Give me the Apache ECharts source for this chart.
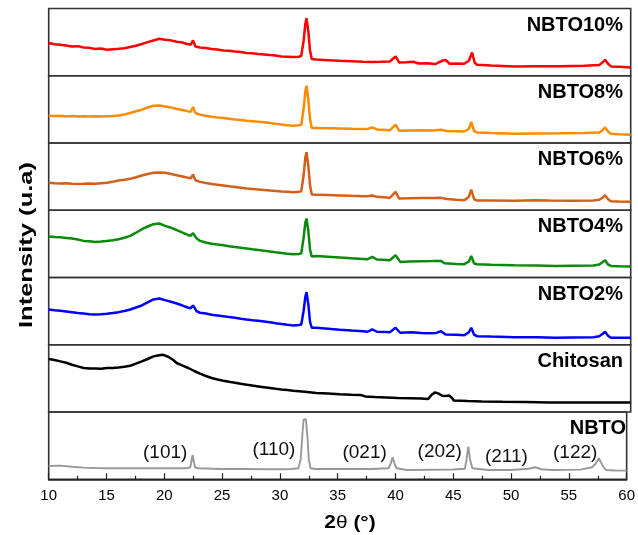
<!DOCTYPE html>
<html>
<head>
<meta charset="utf-8">
<script src="https://cdn.jsdelivr.net/npm/echarts@6/dist/echarts.min.js"></script>
<style>
html,body{margin:0;padding:0;background:#fff;}
#chart{width:638px;height:535px;}
</style>
</head>
<body>
<div id="chart"></div>
<script>
// ---- data (2θ in degrees, intensity in arbitrary units per panel) ----
const panelNames = ['NBTO10%', 'NBTO8%', 'NBTO6%', 'NBTO4%', 'NBTO2%', 'Chitosan', 'NBTO'];
const panelColors = ['#ff0000', '#ff8c00', '#d2601a', '#0a8a0a', '#0000ff', '#000000', '#999999'];

const nbto10 = [[10,32.7],[10.5,31.5],[11,31],[11.5,30.2],[12,29.3],[12.5,29.6],[13,28.3],[13.5,27.9],[14,26.7],[14.5,27.2],[15,26],[15.5,26.6],[16,27],[16.5,27.5],[17,28.7],[17.5,30],[18,31.7],[18.5,33.6],[19,35.3],[19.5,37],[20,36],[20.5,35.4],[21,34],[21.5,33.2],[21.8,32],[22.2,31],[22.4,35.3],[22.6,29.3],[23,28.3],[23.5,27.8],[24,26.7],[24.5,26.2],[25,25.3],[25.5,25],[26,24.3],[26.5,23.8],[27,22.7],[27.5,22.4],[28,21.7],[28.5,21.3],[29,20.7],[29.5,20.2],[30,19.3],[30.5,19.1],[31,18.7],[31.5,19],[31.7,20],[31.9,35],[32.05,52],[32.15,57.7],[32.3,45],[32.45,25],[32.6,16.7],[33,16.2],[34,15.6],[35,15],[36,14.5],[37,14],[37.8,13.8],[38.5,14],[39.3,14.3],[39.8,19.3],[40.1,13.3],[40.7,13.6],[41.3,14],[41.8,12.3],[42.5,12.5],[43.2,11.7],[43.8,15],[44.1,15.7],[44.45,12],[45,12.2],[45.7,12],[46.1,15],[46.37,23.3],[46.6,13],[46.8,11],[48,10.2],[50,9.3],[52,9.6],[54,9.4],[56,10],[57.3,10.8],[57.6,13.5],[57.8,16],[58.05,12],[58.3,9.3],[59,9],[60,8.3]];

const nbto8 = [[10,27.3],[10.5,27],[11,27.2],[11.5,26.6],[12,26.9],[12.5,26.5],[13,26.7],[13.5,26.4],[14,26.8],[14.5,26.5],[15,26.7],[15.5,27],[16,27.6],[16.5,28.6],[17,30],[17.5,31.8],[18,33.3],[18.5,35.5],[19,37.3],[19.5,37.6],[20,36.6],[20.5,35.6],[21,34],[21.5,33],[22,31.6],[22.2,31.2],[22.4,36],[22.6,30],[23,28.3],[23.5,27.3],[24,26.2],[24.5,25.6],[25,25],[25.5,24.3],[26,23.6],[26.5,23],[27,22.3],[27.5,21.8],[28,21.3],[28.5,20.8],[29,20],[29.5,19.2],[30,18.6],[30.5,17.8],[31,17.3],[31.5,17.8],[31.7,18.3],[31.9,34],[32.05,52],[32.15,57.3],[32.3,44],[32.45,24],[32.6,15],[33,15],[34,14.8],[35,14.6],[36,14.3],[37,14.1],[37.4,14],[37.8,15.6],[38.2,13.6],[39,13],[39.3,12.6],[39.8,18.3],[40.1,12.3],[41,12.6],[42,12.8],[43,12.6],[43.7,13.3],[44.2,12],[45,11.8],[45.7,11.6],[46.1,14],[46.3,21],[46.55,12],[46.8,10.6],[48,10],[50,9.3],[52,9.6],[54,9.7],[56,10],[57.3,10.5],[57.6,13],[57.8,15.6],[58.05,11.5],[58.3,9.3],[59,8.8],[60,8.3]];

const nbto6 = [[10,27.4],[10.5,27],[11,26.8],[11.5,27],[12,26.6],[12.5,26.3],[13,26.4],[13.5,26.7],[14,26.5],[14.5,27],[15,27.4],[15.5,28.4],[16,29.7],[16.5,30.5],[17,31.4],[17.5,33],[18,34.7],[18.5,36.3],[19,37.4],[19.5,37.8],[20,37.4],[20.5,36.3],[21,35],[21.5,33.8],[22,32.4],[22.2,32],[22.4,35.7],[22.6,30],[23,28.4],[23.5,27.2],[24,26.2],[24.5,25.5],[25,24.7],[25.5,23.9],[26,23.2],[26.5,22.5],[27,21.7],[27.5,21.3],[28,20.8],[28.5,20.3],[29,19.7],[29.5,19.2],[30,18.7],[30.5,18.4],[31,18],[31.5,18.5],[31.7,19],[31.9,35],[32.05,53],[32.15,58],[32.3,45],[32.45,25],[32.6,15.7],[33,15.6],[34,15.2],[35,14.8],[36,14.4],[37,14.1],[37.4,14],[37.8,14.8],[38.2,13.4],[39,12.8],[39.3,12.4],[39.8,18.4],[40.1,11.7],[41,12],[42,12.3],[43,12.2],[43.7,12.4],[44.2,11.2],[45,10.5],[45.7,10],[46.1,13.5],[46.3,20.7],[46.55,11],[46.8,9.7],[48,9.8],[50,9.6],[51.9,10],[53,9.8],[55,9.5],[56.8,9.8],[57.3,10.5],[57.6,12.8],[57.8,15],[58.05,11],[58.3,9],[59,8.7],[60,8.4]];

const nbto4 = [[10,41],[10.5,40.5],[11,40.2],[11.5,39.6],[12,39],[12.5,38],[13,36.6],[13.5,36.2],[14,35.6],[14.5,36],[15,36.6],[15.5,37.2],[16,38.3],[16.5,39.8],[17,41.6],[17.5,44.8],[18,48.3],[18.5,51],[19,53.3],[19.5,54],[20,51.6],[20.5,49.8],[21,47.3],[21.5,44.8],[22,42.3],[22.2,41.8],[22.4,44.3],[22.7,39.3],[23,36.6],[23.5,35],[24,33.8],[24.5,33],[25,32.3],[25.5,31.3],[26,30.5],[26.5,29.8],[27,29],[27.5,28.2],[28,27.6],[28.5,26.8],[29,26],[29.5,25.2],[30,24.5],[30.5,23.8],[31,23.3],[31.5,23.6],[31.7,24.3],[31.9,40],[32.05,55],[32.15,59],[32.3,47],[32.45,28],[32.6,21],[33,21.6],[34,20.8],[35,20],[36,19.2],[37,18.6],[37.4,18.3],[37.8,20.7],[38.2,18],[39,17.6],[39.3,17.3],[39.8,22.3],[40.2,15.6],[41,16],[42,16.2],[43,16.4],[43.7,16.6],[44,14.3],[45,13.6],[45.7,13.3],[46.1,16],[46.3,21.6],[46.55,14],[46.8,13.3],[48,12.8],[50,12.3],[52,11.9],[53.5,11.6],[55,11.8],[56.8,12],[57.3,13],[57.6,15.5],[57.8,17.3],[58.05,13],[58.3,11.6],[59,11.2],[60,11]];

const nbto2 = [[10,35.3],[10.5,34.6],[11,34],[11.5,33.3],[12,32.6],[12.5,31.8],[13,31.2],[13.5,30.6],[14,30.3],[14.5,30.6],[15,31],[15.5,31.7],[16,32.6],[16.5,33.8],[17,35.3],[17.5,37.3],[18,39.3],[18.5,42.3],[19,45.3],[19.5,46.3],[20,44.6],[20.5,43],[21,41.3],[21.5,39.2],[22,37],[22.2,36.6],[22.4,39.3],[22.7,33.6],[23,32],[23.5,31.2],[24,30],[24.5,29.3],[25,28.6],[25.5,27.8],[26,27],[26.5,26.1],[27,25.3],[27.5,24.6],[28,24],[28.5,23.3],[29,22.6],[29.5,21.6],[30,20.8],[30.5,20],[31,19.3],[31.5,19.7],[31.7,20.3],[31.9,34],[32.05,48],[32.15,52.6],[32.3,41],[32.45,23],[32.6,17],[33,17],[34,16],[35,15],[36,14.2],[37,13.6],[37.4,13],[37.8,15.3],[38.2,13],[39,12.8],[39.3,12.6],[39.8,17],[40.2,12],[41.2,12.6],[42,11.8],[42.6,11.6],[43.3,11.8],[43.7,13.6],[44.1,10.3],[45,10],[45.7,9.6],[46.1,12.5],[46.3,17],[46.55,10],[46.8,8.6],[48,8.2],[50,7.6],[52,7.4],[53.5,7],[55,7.2],[56.8,7.4],[57.3,8.5],[57.6,11],[57.8,13],[58.05,9],[58.3,7],[59,7],[60,7]];

const chitosan = [[10,53],[10.5,52],[11,50.6],[11.5,49.2],[12,47.3],[12.5,45.6],[13,44],[13.5,43.5],[14,43.6],[14.5,43.3],[15,44],[15.5,44.1],[16,44.6],[16.5,45.3],[17,46.3],[17.5,48.4],[18,50.6],[18.5,53],[19,55.6],[19.5,56.8],[19.8,57.3],[20.3,55],[20.7,52],[21,49],[21.5,46.3],[22,44],[22.5,41],[23,38.3],[23.5,36],[24,34],[24.5,32.5],[25,31.3],[25.5,30.2],[26,29.2],[26.5,28.2],[27,27.3],[27.5,26.4],[28,25.6],[28.5,24.8],[29,24],[29.5,23.2],[30,22.5],[30.5,21.9],[31,21.3],[32,20.2],[33,19],[34,18.4],[35,17.8],[36,17.3],[36.8,17],[36.95,19],[37.2,15.6],[38,15.1],[39,14.6],[40,14],[41,13.7],[42,13.4],[42.6,13],[42.9,17.3],[43.2,19.6],[43.5,18.4],[43.8,16.3],[44.1,16],[44.4,16.6],[44.65,14],[44.8,11.6],[46,11],[47.2,10.6],[49,10.2],[51,9.9],[53,9.6],[55,9.6],[57,9.5],[60,9.6]];

const nbto = [[10,13.3],[11,13.6],[12,12.5],[13,11.6],[14,11.2],[15,11],[17,11],[19,11],[21,11],[22,11],[22.25,12],[22.45,24.3],[22.65,12],[22.9,11],[25,10.3],[27,10.2],[29,10],[30,10],[31,10.3],[31.6,11],[31.8,20],[31.95,45],[32.05,59.5],[32.15,57.5],[32.25,60],[32.4,40],[32.5,20],[32.65,11],[33.1,10.3],[35,10.3],[37.9,10.3],[39.4,11],[39.6,16],[39.75,22],[39.9,16],[40.1,11],[41,9.3],[43,9.5],[45,9.7],[46,10.5],[46.15,20],[46.3,32.6],[46.45,20],[46.65,11],[48,9.3],[50,9.3],[51.5,10.5],[52.1,12],[52.6,10],[53.5,9.3],[56,9.6],[57,12],[57.3,15.3],[57.45,14.5],[57.6,21],[57.75,19],[58,12],[58.2,9.3],[59,8.8],[60,8.6]];

const panelData = [nbto10, nbto8, nbto6, nbto4, nbto2, chitosan, nbto];

// Miller indices of NBTO reflections (label text, 2θ position, height in panel units)
const millerLabels = ['(101)', '(110)', '(021)', '(202)', '(211)', '(122)'];
const millerX = [20.08, 29.48, 37.33, 43.83, 49.6, 55.55];
const millerY = [26.8, 29, 26, 27.6, 22.6, 26];

const xTicksMin = 10, xTicksMax = 60, xTickStep = 5;

// ---- layout ----
const W = 638, H = 535;
const LEFT = 48.7, RIGHT = 7.3, TOP = 8.5, PH = 67.25;
const FONT = '"Liberation Sans", Arial, sans-serif';

const grids = [], xAxes = [], yAxes = [], series = [], graphics = [];
panelNames.forEach((name, i) => {
  const bottom = i === panelNames.length - 1;
  grids.push({left: LEFT, right: RIGHT, top: TOP + i * PH, height: PH, show: true,
    borderColor: '#333', borderWidth: 1.6, backgroundColor: 'transparent'});
  xAxes.push({gridIndex: i, type: 'value', min: xTicksMin, max: xTicksMax, interval: xTickStep,
    show: bottom,
    axisLine: {show: bottom, onZero: false, lineStyle: {color: '#222', width: 1.6}},
    axisTick: {show: bottom, inside: true, length: 6, lineStyle: {color: '#222', width: 1.2}},
    minorTick: {show: bottom, splitNumber: 2, length: 3.5, lineStyle: {color: '#222', width: 1.2}},
    axisLabel: {show: bottom, fontSize: 15, color: '#000', margin: 9, fontFamily: FONT},
    splitLine: {show: false}});
  yAxes.push({gridIndex: i, type: 'value', min: 0, max: PH, show: false, splitLine: {show: false}});
  series.push({type: 'line', xAxisIndex: i, yAxisIndex: i, data: panelData[i], showSymbol: false,
    symbol: 'none', smooth: false, animation: false,
    lineStyle: {color: panelColors[i], width: i === 6 ? 1.9 : 2.5}});
  graphics.push({type: 'text', right: W - 623 + (name === 'NBTO' ? -3 : 0), top: TOP + i * PH + 6.5,
    style: {text: name, font: 'bold 20px ' + FONT, fill: '#000'}});
});

// axis titles
graphics.push({type: 'text', x: 27, y: 245, rotation: Math.PI / 2, scaleX: 1.42,
  style: {text: 'Intensity (u.a)', font: 'bold 18px ' + FONT, fill: '#000',
    textAlign: 'center', textVerticalAlign: 'middle'}});
graphics.push({type: 'text', x: 350, y: 522.5, scaleX: 1.1,
  style: {text: '{b|2}{n|θ}{b| (°)}', textAlign: 'center', textVerticalAlign: 'middle',
    rich: {b: {font: 'bold 19px ' + FONT, fill: '#000'}, n: {font: '19px ' + FONT, fill: '#000'}}}});

const chart = echarts.init(document.getElementById('chart'), null, {renderer: 'canvas'});
chart.setOption({
  animation: false,
  backgroundColor: '#fff',
  grid: grids, xAxis: xAxes, yAxis: yAxes, series: series, graphic: graphics
});

// Miller index labels placed through the NBTO panel's axes
const millerGraphics = millerLabels.map((t, k) => {
  const p = chart.convertToPixel({xAxisIndex: 6, yAxisIndex: 6}, [millerX[k], millerY[k]]);
  return {type: 'text', x: p[0], y: p[1], silent: true,
    style: {text: t, font: '19px ' + FONT, fill: '#111', textAlign: 'center', textVerticalAlign: 'middle'}};
});
chart.setOption({graphic: graphics.concat(millerGraphics)});
</script>
</body>
</html>
